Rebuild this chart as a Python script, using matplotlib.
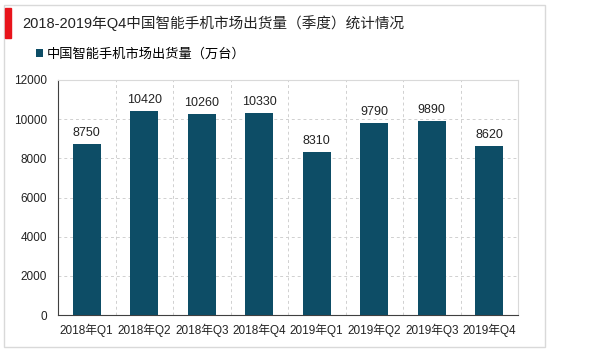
import matplotlib.pyplot as plt
from matplotlib.patches import Rectangle

plt.rcParams['font.family'] = ['Liberation Sans', 'Noto Sans CJK SC', 'DejaVu Sans']

# 数据
quarters = ['2018年Q1', '2018年Q2', '2018年Q3', '2018年Q4',
            '2019年Q1', '2019年Q2', '2019年Q3', '2019年Q4']
shipments = [8750, 10420, 10260, 10330, 8310, 9790, 9890, 8620]
yticks = [0, 2000, 4000, 6000, 8000, 10000, 12000]

bar_color = '#0d4d66'

fig = plt.figure(figsize=(6, 3.52), dpi=100)

# 外框和标题
fig.patches.append(Rectangle((4 / 600, 5 / 352), 541 / 600, 342 / 352,
                             transform=fig.transFigure, fill=False,
                             edgecolor='#d9d9d9', linewidth=1))
fig.patches.append(Rectangle((5 / 600, 1 - 38 / 352), 6 / 600, 30 / 352,
                             transform=fig.transFigure, color='#e8141b'))
fig.text(22 / 600, 1 - 23 / 352, '2018-2019年Q4中国智能手机市场出货量（季度）统计情况',
         fontsize=10.5, va='center', ha='left', color='#222222')

ax = fig.add_axes([58 / 600, 1 - 315 / 352, 460 / 600, 235 / 352])
x = range(len(quarters))
bars = ax.bar(x, shipments, width=0.49, color=bar_color,
              label='中国智能手机市场出货量（万台）', zorder=3)
for i, v in enumerate(shipments):
    ax.text(i, v + 250, str(v), ha='center', va='bottom', fontsize=9, color='#222222')

ax.set_xlim(-0.5, len(quarters) - 0.5)
ax.set_ylim(0, 12000)
ax.set_yticks(yticks)
ax.set_xticks(list(x))
ax.set_xticklabels(quarters)
ax.tick_params(axis='both', length=0, labelsize=8.5, colors='#222222')
ax.tick_params(axis='x', pad=6)
ax.tick_params(axis='y', pad=8)

# 网格线
ax.yaxis.grid(True, linestyle=(0, (3, 3)), color='#d0d0d0', linewidth=0.7, zorder=0)
for b in [i + 0.5 for i in range(len(quarters) - 1)]:
    ax.axvline(b, linestyle=(0, (3, 3)), color='#d0d0d0', linewidth=0.7, zorder=0)

ax.spines['left'].set_color('#404040')
ax.spines['bottom'].set_color('#404040')
ax.spines['top'].set_color('#d9d9d9')
ax.spines['right'].set_color('#d9d9d9')

ax.legend(loc='lower left', bbox_to_anchor=(-0.06, 1.06), frameon=False,
          fontsize=9.5, handlelength=0.55, handleheight=0.55, handletextpad=0.3,
          borderaxespad=0)

fig.savefig('out.png', dpi=100)
